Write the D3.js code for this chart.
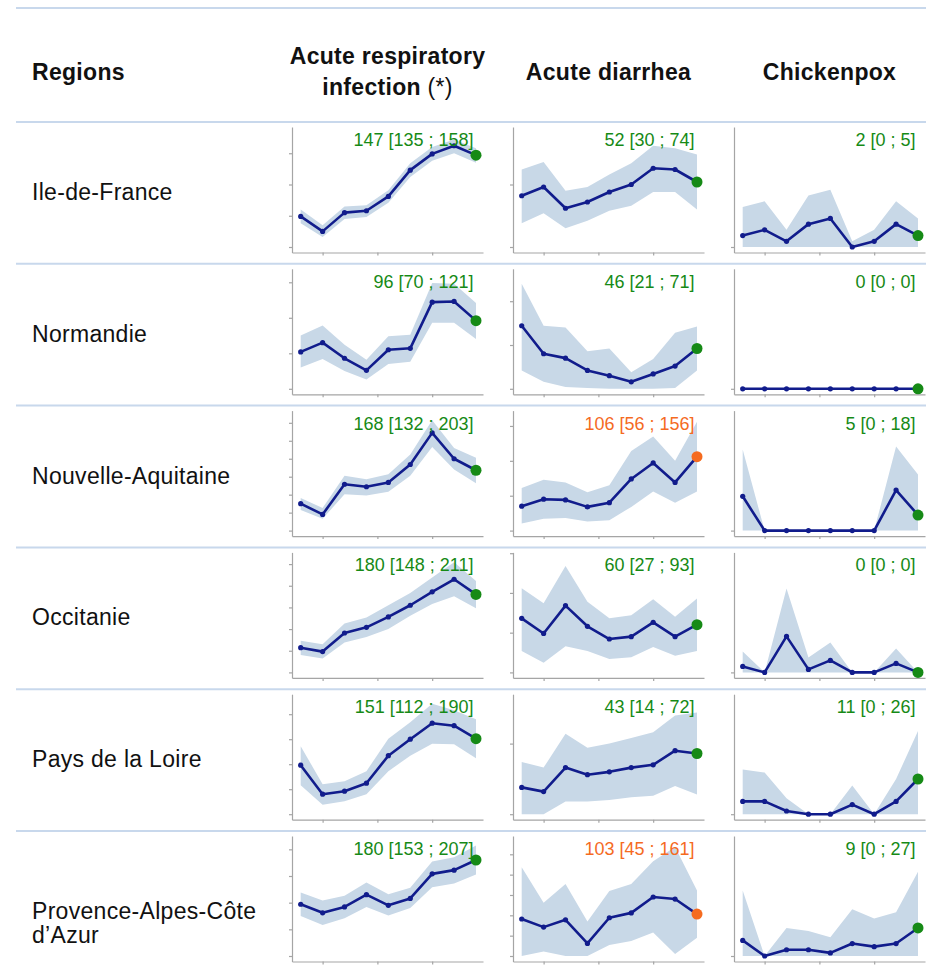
<!DOCTYPE html>
<html>
<head>
<meta charset="utf-8">
<script src="https://cdn.jsdelivr.net/npm/d3@7"></script>
<style>
  body { margin: 0; background: #fff; }
  svg { display: block; font-family: "Liberation Sans", Arial, Helvetica, sans-serif; }
</style>
</head>
<body>
<script>
// Regions (rows) and indicators (columns)
const regions = ["Ile-de-France", "Normandie", "Nouvelle-Aquitaine", "Occitanie",
  "Pays de la Loire", "Provence-Alpes-Côte\nd’Azur"];
const headers = [["Acute respiratory", "infection"], ["Acute diarrhea"], ["Chickenpox"]];
const weeks = [1, 2, 3, 4, 5, 6, 7, 8, 9];
const xTicks = [2, 4.5, 7];
const yStep = 50;

// Acute respiratory infection: rate, lower and upper bound, one list per region
const ariRate = [
  [49, 25, 55, 58, 81, 123, 149, 162, 147],
  [52, 65, 43, 26, 55, 57, 122, 123, 96],
  [75, 45, 129, 122, 134, 184, 272, 200, 168],
  [57, 48, 91, 104, 128, 155, 186, 215, 180],
  [98, 40, 46, 62, 117, 150, 182, 177, 151],
  [97, 81, 92, 115, 95, 108, 154, 161, 180]
];
const ariLow = [
  [38, 16, 45, 48, 71, 112, 138, 150, 135],
  [30, 42, 25, 13, 35, 38, 93, 93, 70],
  [57, 33, 101, 98, 108, 153, 233, 170, 132],
  [40, 32, 69, 82, 100, 131, 158, 176, 148],
  [58, 19, 26, 40, 86, 117, 141, 140, 112],
  [75, 58, 71, 92, 76, 90, 129, 136, 153]
];
const ariHigh = [
  [60, 35, 65, 67, 91, 134, 160, 172, 158],
  [75, 89, 62, 41, 74, 76, 149, 148, 121],
  [91, 63, 153, 143, 157, 212, 307, 230, 203],
  [73, 65, 113, 127, 155, 183, 219, 254, 211],
  [136, 60, 66, 86, 151, 184, 221, 208, 190],
  [119, 104, 113, 138, 116, 128, 177, 185, 207]
];

// Acute diarrhea
const diaRate = [
  [41, 48, 31, 36, 44, 50, 63, 62, 52],
  [72, 40, 35, 21, 15, 8, 17, 26, 46],
  [35, 45, 44, 34, 40, 74, 97, 69, 106],
  [68, 49, 84, 58, 42, 45, 63, 45, 60],
  [19, 16, 33, 28, 30, 33, 35, 45, 43],
  [91, 71, 89, 31, 94, 106, 145, 140, 103]
];
const diaLow = [
  [19, 27, 15, 21, 29, 33, 44, 44, 30],
  [21, 8, 2, 1, 0, 0, 0, 1, 21],
  [10, 17, 18, 13, 15, 34, 56, 40, 56],
  [27, 12, 33, 27, 17, 19, 32, 21, 27],
  [0, 0, 9, 9, 10, 12, 13, 20, 14],
  [0, 11, 0, 0, 27, 37, 58, 5, 45]
];
const diaHigh = [
  [62, 68, 45, 48, 58, 67, 81, 79, 74],
  [120, 72, 70, 43, 46, 19, 34, 64, 71],
  [61, 73, 69, 55, 65, 114, 135, 100, 156],
  [106, 87, 134, 89, 68, 72, 92, 70, 93],
  [37, 33, 57, 47, 50, 54, 58, 70, 72],
  [218, 131, 177, 85, 160, 177, 233, 268, 161]
];

// Chickenpox
const cpxRate = [
  [2, 3, 1, 4, 5, 0, 1, 4, 2],
  [0, 0, 0, 0, 0, 0, 0, 0, 0],
  [11, 0, 0, 0, 0, 0, 0, 13, 5],
  [2, 0, 12, 1, 4, 0, 0, 3, 0],
  [4, 4, 1, 0, 0, 3, 0, 4, 11],
  [5, 0, 2, 2, 1, 4, 3, 4, 9]
];
const cpxLow = [
  [0, 0, 0, 0, 0, 0, 0, 0, 0],
  [0, 0, 0, 0, 0, 0, 0, 0, 0],
  [0, 0, 0, 0, 0, 0, 0, 0, 0],
  [0, 0, 0, 0, 0, 0, 0, 0, 0],
  [0, 0, 0, 0, 0, 0, 0, 0, 0],
  [0, 0, 0, 0, 0, 0, 0, 0, 0]
];
const cpxHigh = [
  [7, 8, 3, 9, 10, 1, 3, 8, 5],
  [0, 0, 0, 0, 0, 0, 0, 0, 0],
  [26, 0, 0, 0, 0, 0, 0, 27, 18],
  [7, 0, 28, 5, 10, 0, 0, 8, 0],
  [14, 13, 5, 0, 0, 9, 0, 11, 26],
  [21, 0, 9, 8, 6, 15, 12, 14, 27]
];

// y axis maximum of each small chart, per indicator
const ariMax = [192, 169, 334, 277, 240, 225];
const diaMax = [96, 137, 172, 151, 85, 295];
const cpxMax = [21, 1, 38.5, 40, 37.5, 38.5];

// status of the last week (alert = orange)
const diaAlert = [false, false, true, false, false, true];

const indicators = [
  { rate: ariRate, low: ariLow, high: ariHigh, max: ariMax, alert: regions.map(() => false) },
  { rate: diaRate, low: diaLow, high: diaHigh, max: diaMax, alert: diaAlert },
  { rate: cpxRate, low: cpxLow, high: cpxHigh, max: cpxMax, alert: regions.map(() => false) }
];

// layout
const W = 926, H = 965;
const firstRow = 122, rowH = 141.8;
const colX = [292, 513, 734];
const plot = { w: 191, top: 5, zero: 125, axis: 130.5, x0: 8.7, x1: 184 };
const sepColor = "#c8d8ec", bandColor = "#c8d8e7", lineColor = "#111c8c";
const okColor = "#168a16", alertColor = "#f56b1f", axisColor = "#a5a5a5";
const bigFont = 23, spacing = 0.3;

const svg = d3.select("body").append("svg")
  .attr("width", W)
  .attr("height", H);

svg.append("rect").attr("width", W).attr("height", H).attr("fill", "#fff");

const rowTop = i => firstRow + i * rowH;

// separators
svg.selectAll(".sep")
  .data([8].concat(regions.map((r, i) => rowTop(i))))
  .enter().append("line")
  .attr("class", "sep")
  .attr("x1", 16).attr("x2", W)
  .attr("y1", d => d).attr("y2", d => d)
  .attr("stroke", sepColor)
  .attr("stroke-width", 2);

// header
svg.append("text")
  .attr("x", 32).attr("y", 80)
  .attr("font-size", bigFont).attr("font-weight", "bold")
  .attr("letter-spacing", spacing)
  .attr("fill", "#111")
  .text("Regions");

headers.forEach((lines, j) => {
  const cx = colX[j] + plot.w / 2;
  const y0 = lines.length > 1 ? 64 : 80;
  lines.forEach((ln, k) => {
    const t = svg.append("text")
      .attr("x", cx).attr("y", y0 + k * 31)
      .attr("text-anchor", "middle")
      .attr("font-size", bigFont).attr("font-weight", "bold")
      .attr("letter-spacing", spacing)
      .attr("fill", "#111")
      .text(ln);
    if (j === 0 && k === lines.length - 1) {
      t.append("tspan").attr("font-weight", "normal").text(" (*)");
    }
  });
});

// region labels
regions.forEach((name, i) => {
  const lines = name.split("\n");
  lines.forEach((ln, k) => {
    svg.append("text")
      .attr("x", 32)
      .attr("y", rowTop(i) + 78 + (lines.length - 1) * 10 + k * 24)
      .attr("font-size", bigFont)
      .attr("letter-spacing", spacing)
      .attr("fill", "#111")
      .text(ln);
  });
});

// small charts
regions.forEach((name, i) => {
  indicators.forEach((ind, j) => {
    const rate = ind.rate[i], low = ind.low[i], high = ind.high[i];
    const g = svg.append("g")
      .attr("transform", `translate(${colX[j]},${rowTop(i)})`);

    const x = d3.scaleLinear()
      .domain([weeks[0], weeks[weeks.length - 1]])
      .range([plot.x0, plot.x1]);
    const y = d3.scaleLinear()
      .domain([0, ind.max[i]])
      .range([plot.zero, plot.top]);

    // axis scales covering the whole frame
    const xa = d3.scaleLinear().domain([x.invert(0), x.invert(plot.w)]).range([0, plot.w]);
    const ya = d3.scaleLinear().domain([y.invert(plot.axis), y.invert(plot.top)]).range([plot.axis, plot.top]);

    const band = d3.area()
      .x((d, k) => x(weeks[k]))
      .y0((d, k) => y(low[k]))
      .y1(d => y(d));
    g.append("path")
      .datum(high)
      .attr("d", band)
      .attr("fill", bandColor);

    const yAxis = g.append("g")
      .call(d3.axisLeft(ya)
        .tickValues(d3.range(0, ind.max[i], yStep))
        .tickSize(3).tickSizeOuter(0)
        .tickFormat(""));
    const xAxis = g.append("g")
      .attr("transform", `translate(0,${plot.axis})`)
      .call(d3.axisBottom(xa)
        .tickValues(xTicks)
        .tickSize(3).tickSizeOuter(0)
        .tickFormat(""));
    [yAxis, xAxis].forEach(a => {
      a.selectAll("path, line").attr("stroke", axisColor).attr("stroke-width", 1.2);
    });

    const line = d3.line()
      .x((d, k) => x(weeks[k]))
      .y(d => y(d));
    g.append("path")
      .datum(rate)
      .attr("d", line)
      .attr("fill", "none")
      .attr("stroke", lineColor)
      .attr("stroke-width", 2.6)
      .attr("stroke-linejoin", "round");

    g.selectAll(".dot")
      .data(rate.slice(0, -1))
      .enter().append("circle")
      .attr("class", "dot")
      .attr("cx", (d, k) => x(weeks[k]))
      .attr("cy", d => y(d))
      .attr("r", 2.6)
      .attr("fill", lineColor);

    const last = rate.length - 1;
    const status = ind.alert[i] ? alertColor : okColor;
    g.append("circle")
      .attr("cx", x(weeks[last]))
      .attr("cy", y(rate[last]))
      .attr("r", 5.5)
      .attr("fill", status);

    g.append("text")
      .attr("x", 181.5).attr("y", 24)
      .attr("text-anchor", "end")
      .attr("font-size", 18)
      .attr("fill", status)
      .text(`${rate[last]} [${low[last]} ; ${high[last]}]`);
  });
});
</script>
</body>
</html>
